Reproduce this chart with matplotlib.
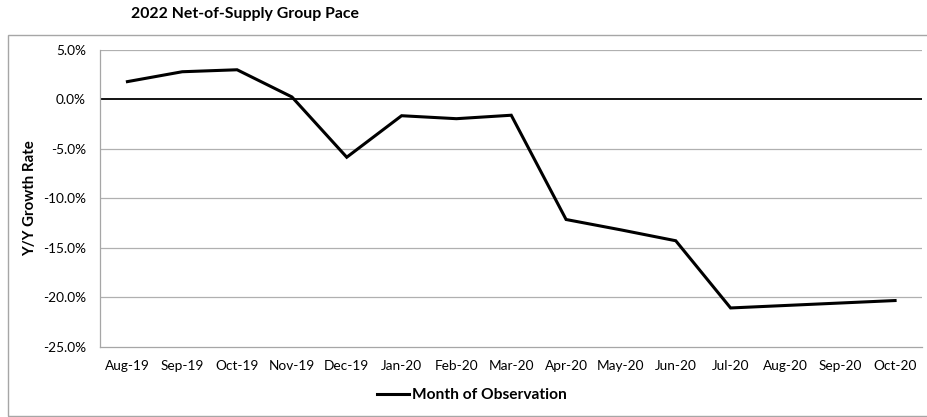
import matplotlib
matplotlib.use("Agg")
import matplotlib.pyplot as plt
from matplotlib.patches import Rectangle
from matplotlib.ticker import FuncFormatter

months = ["Aug-19", "Sep-19", "Oct-19", "Nov-19", "Dec-19", "Jan-20", "Feb-20", "Mar-20",
          "Apr-20", "May-20", "Jun-20", "Jul-20", "Aug-20", "Sep-20", "Oct-20"]
growth = [1.8, 2.8, 3.0, 0.25, -5.85, -1.65, -1.95, -1.6,
          -12.15, -13.2, -14.3, -21.1, -20.85, -20.6, -20.35]
yticks = [5, 0, -5, -10, -15, -20, -25]

plt.rcParams['font.family'] = ['Lato', 'DejaVu Sans']

W, H = 928, 417
fig = plt.figure(figsize=(W / 100, H / 100), dpi=100)

# outer chart frame (right side runs past the image edge)
fig.patches.append(Rectangle((8 / W, 1 - 415.5 / H), (940 - 8) / W, (415.5 - 35) / H,
                             transform=fig.transFigure, fill=False,
                             edgecolor="#a6a6a6", linewidth=1.0, clip_on=True))

left, right = 100 / W, 922.5 / W
top, bottom = 1 - 50 / H, 1 - 346.5 / H
ax = fig.add_axes([left, bottom, right - left, top - bottom])

x = list(range(len(months)))
line, = ax.plot(x, growth, color="black", linewidth=2.2, label="Month of Observation",
                solid_joinstyle="miter")

ax.set_xlim(-0.5, len(months) - 0.5)
ax.set_ylim(-25, 5)
ax.set_yticks(yticks)
ax.yaxis.set_major_formatter(FuncFormatter(lambda v, p: f"{v:.1f}%"))
ax.set_xticks(x)
ax.set_xticklabels(months)

for y in yticks:
    if y == 0:
        ax.axhline(y, color="black", linewidth=1.3, zorder=1)
    elif y != -25:
        ax.axhline(y, color="#b0b0b0", linewidth=0.9, zorder=0)

for s in ["top", "right"]:
    ax.spines[s].set_visible(False)
for s in ["left", "bottom"]:
    ax.spines[s].set_color("#a6a6a6")
    ax.spines[s].set_linewidth(0.9)

ax.tick_params(axis="both", length=0, labelsize=9.8, colors="black")
ax.tick_params(axis="y", pad=10)
ax.tick_params(axis="x", pad=10)

ax.set_ylabel("Y/Y Growth Rate", fontsize=10.8, fontweight="bold", labelpad=4)

fig.text(245 / W, 1 - 14 / H, "2022 Net-of-Supply Group Pace", ha="center", va="center",
         fontsize=11.4, fontweight="bold")

leg = fig.legend(handles=[line], loc="center", bbox_to_anchor=(472 / W, 1 - 395 / H),
                 frameon=False, handlelength=2.0, handletextpad=0.2,
                 prop={"weight": "bold", "size": 11.2})

fig.savefig("out.png", dpi=100)
